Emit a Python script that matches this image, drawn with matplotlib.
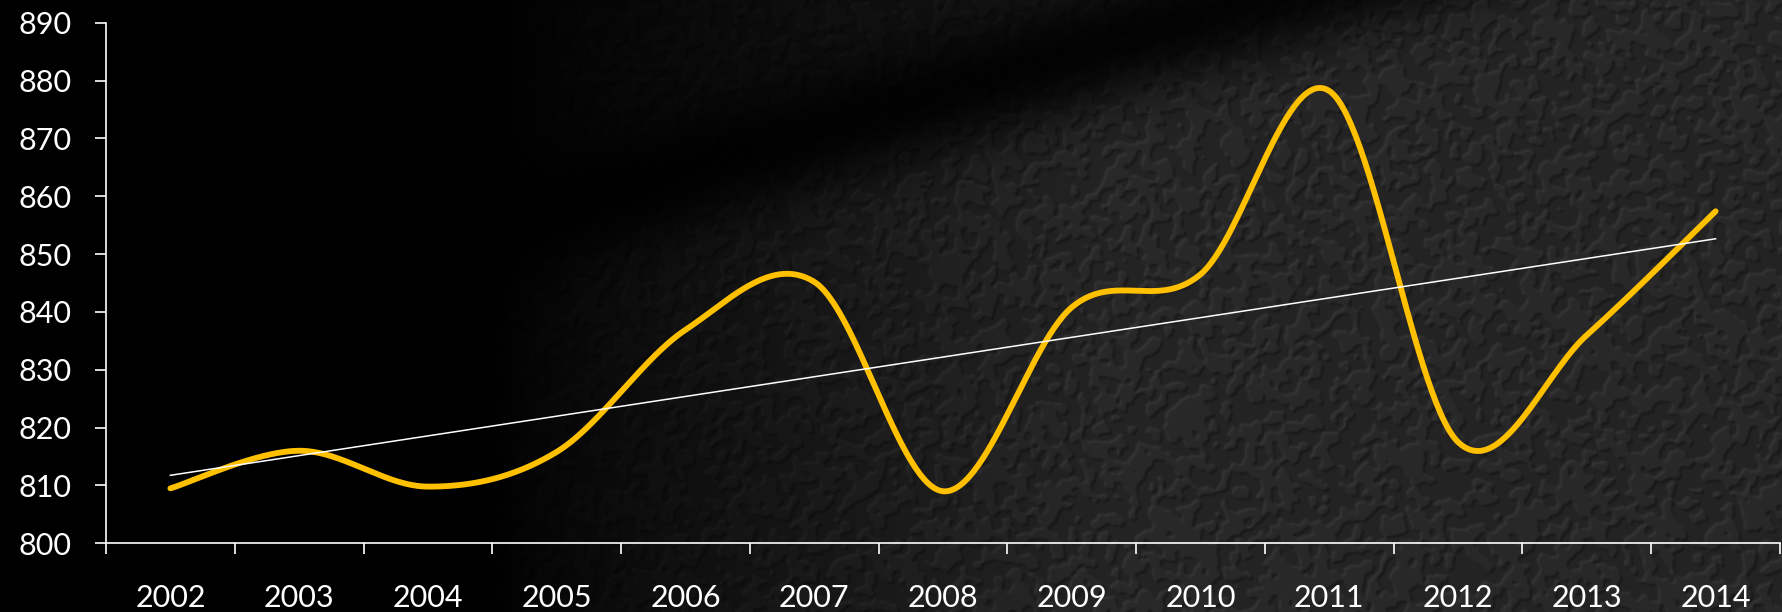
import matplotlib
matplotlib.use("Agg")
import matplotlib.pyplot as plt
import numpy as np

# yearly values
years = ['2002', '2003', '2004', '2005', '2006', '2007', '2008',
         '2009', '2010', '2011', '2012', '2013', '2014']
values = [809.5, 816.0, 809.8, 815.8, 836.9, 845.2, 809.0,
          840.8, 846.5, 878.2, 817.5, 836.0, 857.4]

W, H, DPI = 1783, 612, 100
plt.rcParams['font.family'] = ['Lato', 'DejaVu Sans']


def blur(a, s):
    fy = np.fft.fftfreq(a.shape[0])[:, None]
    fx = np.fft.fftfreq(a.shape[1])[None, :]
    g = np.exp(-2 * (np.pi * s) ** 2 * (fx ** 2 + fy ** 2))
    return np.real(np.fft.ifft2(np.fft.fft2(a) * g))


# dark embossed leather-ish backdrop
rng = np.random.default_rng(7)
noise = rng.random((H, W))
b = blur(noise, 3.4)
cells = (b > np.percentile(b, 50)).astype(float)
cells = blur(cells, 1.0)
emboss = cells - np.roll(np.roll(cells, 2, 0), 2, 1)
tex = 0.15 + 0.05 * emboss + 0.02 * (cells - 0.5)

yy, xx = np.mgrid[0:H, 0:W].astype(float)
ramp = np.clip((xx - 490) / 620, 0, 1) ** 0.75
# diagonal shadow band
x0, y0, x1, y1 = 1420.0, 0.0, 545.0, 262.0
nx, ny = -(y1 - y0), (x1 - x0)
nrm = np.hypot(nx, ny)
d = ((xx - x0) * nx + (yy - y0) * ny) / nrm
d = -d if ((W - x0) * nx + (H - y0) * ny) < 0 else d
side = 1 / (1 + np.exp(-d / 14))
shade = (0.6 + 0.4 * side) * (1 - 0.85 * np.exp(-((d + 50) / 55) ** 2))
bright = np.clip(ramp * shade, 0, 1)
bg = np.clip(tex * bright, 0, 1)
img = np.dstack([bg, bg, bg])

fig = plt.figure(figsize=(W / DPI, H / DPI), dpi=DPI, facecolor='black')
bax = fig.add_axes([0, 0, 1, 1])
bax.imshow(img, aspect='auto', interpolation='bilinear')
bax.axis('off')

ax = fig.add_axes([106 / W, 1 - 543.3 / H, (1780 - 106) / W, (543.3 - 22.7) / H])
ax.patch.set_alpha(0)

# smoothed line through the points (Catmull-Rom style Bezier segments)
xs = np.arange(len(values), dtype=float)
ys = np.array(values)
px = np.concatenate([[xs[0]], xs, [xs[-1]]])
py = np.concatenate([[ys[0]], ys, [ys[-1]]])
cx, cy = [], []
t = np.linspace(0, 1, 60)[:, None]
for i in range(1, len(px) - 2):
    p0 = np.array([px[i], py[i]])
    p3 = np.array([px[i + 1], py[i + 1]])
    c1 = p0 + (np.array([px[i + 1], py[i + 1]]) - np.array([px[i - 1], py[i - 1]])) / 6
    c2 = p3 - (np.array([px[i + 2], py[i + 2]]) - np.array([px[i], py[i]])) / 6
    seg = ((1 - t) ** 3) * p0 + 3 * ((1 - t) ** 2) * t * c1 + 3 * (1 - t) * t ** 2 * c2 + t ** 3 * p3
    cx.extend(seg[:, 0])
    cy.extend(seg[:, 1])
ax.plot(cx, cy, color='#FFC000', lw=4.2, solid_capstyle='round', zorder=3)

# linear trend
k, c = np.polyfit(xs, ys, 1)
ax.plot([xs[0], xs[-1]], [k * xs[0] + c, k * xs[-1] + c], color='white', lw=1.1, zorder=4)

ax.set_xlim(-0.5, len(years) - 0.5)
ax.set_ylim(800, 890)
ax.set_yticks(np.arange(800, 891, 10))
ax.set_xticks(np.arange(-0.5, len(years), 1.0))
ax.set_xticklabels([])
ax.set_xticks(xs, minor=True)
ax.set_xticklabels(years, minor=True)

for s in ['top', 'right']:
    ax.spines[s].set_visible(False)
for s in ['left', 'bottom']:
    ax.spines[s].set_color('white')
    ax.spines[s].set_linewidth(1.2)

ax.tick_params(axis='y', which='major', colors='white', length=8, width=1.2,
               pad=17, labelsize=22)
ax.tick_params(axis='x', which='major', colors='white', length=8, width=1.2)
ax.tick_params(axis='x', which='minor', colors='white', length=0, pad=29, labelsize=22)

fig.savefig('out.png', dpi=DPI, facecolor='black')
